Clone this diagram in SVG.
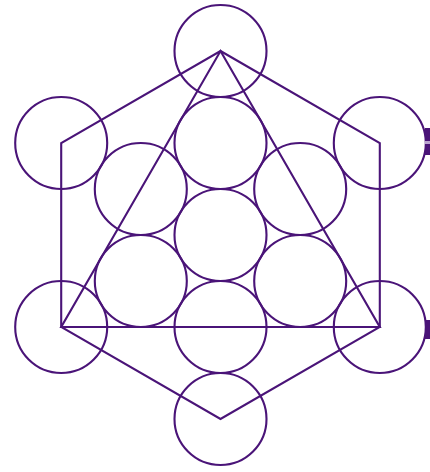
<svg xmlns="http://www.w3.org/2000/svg" width="430" height="472" viewBox="0 0 430 472">
<style>
.s{fill:none;stroke:#4a1478;stroke-width:2.1}
.m{fill:#4a1478}
</style>
<rect width="430" height="472" fill="#fff"/>
<g id="connectors">
<polygon class="s" points="220.5,51 379.8,143 379.8,327 220.5,419 61.2,327 61.2,143"/>
<polygon class="s" points="220.5,51 379.8,327 61.2,327"/>
</g>
<g id="outer-circles">
<circle id="c-top" class="s" cx="220.5" cy="51" r="46"/>
<circle id="c-ul" class="s" cx="61.2" cy="143" r="46"/>
<circle id="c-ur" class="s" cx="379.8" cy="143" r="46"/>
<circle id="c-ll" class="s" cx="61.2" cy="327" r="46"/>
<circle id="c-lr" class="s" cx="379.8" cy="327" r="46"/>
<circle id="c-bottom" class="s" cx="220.5" cy="419" r="46"/>
</g>
<g id="inner-circles">
<circle id="i-center" class="s" cx="220.5" cy="235" r="46"/>
<circle id="i-top" class="s" cx="220.5" cy="143" r="46"/>
<circle id="i-bottom" class="s" cx="220.5" cy="327" r="46"/>
<circle id="i-ul" class="s" cx="140.8" cy="189" r="46"/>
<circle id="i-ur" class="s" cx="300.2" cy="189" r="46"/>
<circle id="i-ll" class="s" cx="140.8" cy="281" r="46"/>
<circle id="i-lr" class="s" cx="300.2" cy="281" r="46"/>
</g>
<g id="edge-marks">
<rect class="m" x="425" y="128" width="5" height="27"/>
<rect x="425" y="141" width="5" height="3" fill="#b9a3cf"/>
<rect class="m" x="425" y="320" width="5" height="19"/>
</g>
</svg>
